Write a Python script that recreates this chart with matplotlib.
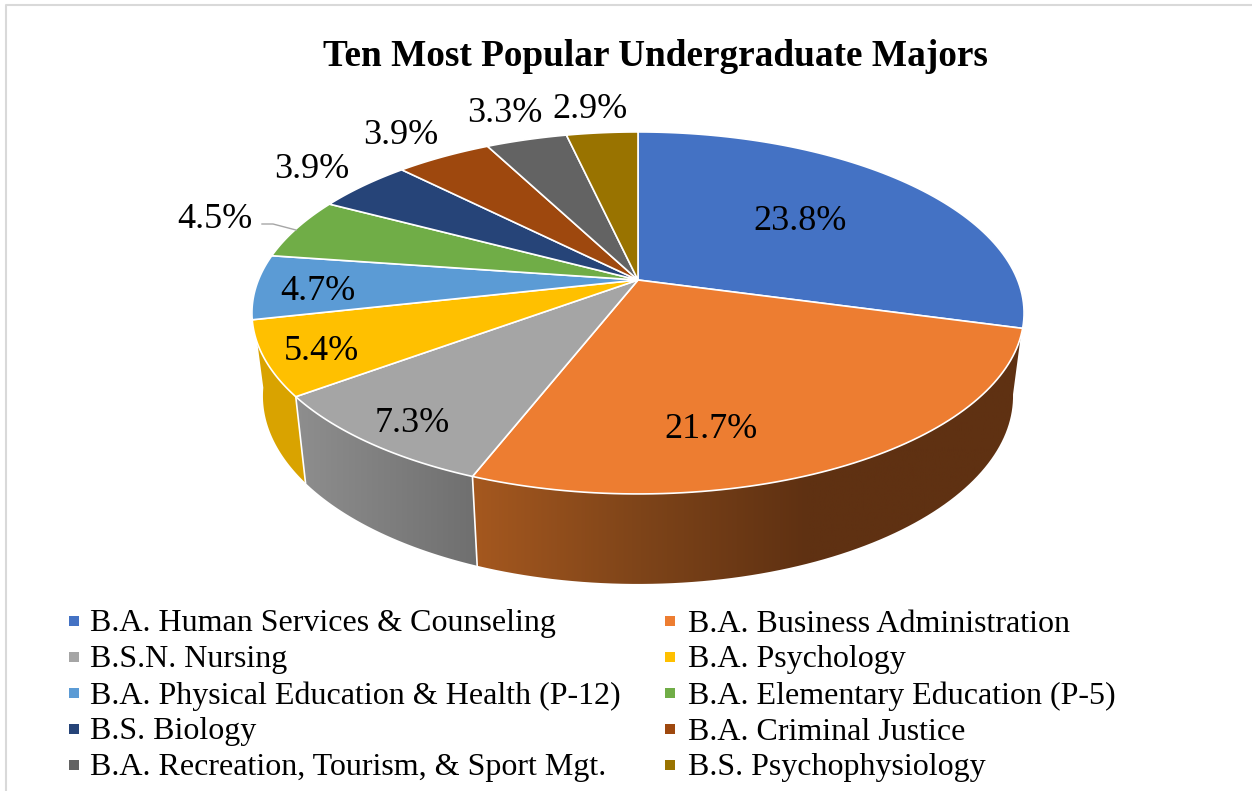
#Ten most popular majors drawn as a tilted 3D pie
import numpy as np
import matplotlib
matplotlib.use("Agg")
import matplotlib.pyplot as plt
from matplotlib.colors import LinearSegmentedColormap
from matplotlib.patches import Polygon

plt.rcParams['font.family'] = ['Liberation Serif', 'DejaVu Serif']

majors = ["B.A. Human Services & Counseling", "B.A. Business Administration",
          "B.S.N. Nursing", "B.A. Psychology",
          "B.A. Physical Education & Health (P-12)", "B.A. Elementary Education (P-5)",
          "B.S. Biology", "B.A. Criminal Justice",
          "B.A. Recreation, Tourism, & Sport Mgt.", "B.S. Psychophysiology"]
shares = [23.8, 21.7, 7.3, 5.4, 4.7, 4.5, 3.9, 3.9, 3.3, 2.9]
colors = ["#4472c4", "#ed7d31", "#a5a5a5", "#ffc000", "#5b9bd5",
          "#70ad47", "#264478", "#9e480e", "#636363", "#997300"]

#where the percent labels sit, in pixels
label_x = [800, 711, 412, 321, 318, 215, 312, 401, 505, 590]
label_y = [221, 430, 423, 352, 292, 219, 169, 136, 114, 110]

#pie geometry in pixels, the apex is not the middle of the ellipse (perspective)
cx, apex_y = 638, 280
top_cy, top_rx, top_ry = 313, 386, 181
bot_cy, bot_rx, bot_ry = 396, 375, 188
persp = 0.182
persp_a = 175
persp_d = 379.6

def top_point(theta):
    #theta is degrees clockwise from the top of the pie
    t = np.radians(theta)
    u, v = np.sin(t), np.cos(t)
    d = 1 + persp * v
    return cx + persp_d * u / d, apex_y - persp_a * v / d

def bottom_point(theta):
    #same spot on the rim, moved down to the lower ellipse
    x, y = top_point(theta)
    s = (x - cx) / top_rx
    c = (y - top_cy) / top_ry
    return cx + bot_rx * s, bot_cy + bot_ry * c

def wall_poly(a, b):
    th = np.linspace(a, b, 80)
    tx, ty = top_point(th)
    bx, by = bottom_point(th)
    return np.column_stack([np.r_[tx, bx[::-1]], np.r_[ty, by[::-1]]])

fig = plt.figure(figsize=(12.52, 7.91), dpi=100)
ax = fig.add_axes([0, 0, 1, 1])

edges = np.r_[0, np.cumsum(shares)] / sum(shares) * 360

#visible part of the side wall runs from the right rim to the left rim
wall_start, wall_end = 100, 262

#orange wall has a left to right gradient
orange_grad = LinearSegmentedColormap.from_list(
    "orange_wall", [(0, "#a5581f"), (0.3, "#7e4419"), (0.6, "#5f3112"), (1, "#5f3112")])
grey_grad = LinearSegmentedColormap.from_list("grey_wall", ["#8e8e8e", "#6f6f6f"])

p = Polygon(wall_poly(wall_start, edges[2]), closed=True, fc="none", ec="none")
ax.add_patch(p)
im = ax.imshow(np.linspace(0, 1, 256).reshape(1, -1), cmap=orange_grad, aspect="auto",
               extent=[473, 1030, 600, 300], zorder=1)
im.set_clip_path(p)

p = Polygon(wall_poly(edges[2], edges[3]), closed=True, fc="none", ec="none")
ax.add_patch(p)
xs = p.get_xy()[:, 0]
im = ax.imshow(np.linspace(0, 1, 256).reshape(1, -1), cmap=grey_grad, aspect="auto",
               extent=[xs.min(), xs.max(), 600, 380], zorder=1)
im.set_clip_path(p)

ax.add_patch(Polygon(wall_poly(edges[3], wall_end), closed=True, fc="#d9a300", ec="none", zorder=1))

#white separators on the wall
for e in [edges[2], edges[3]]:
    tx, ty = top_point(e)
    bx, by = bottom_point(e)
    ax.plot([tx, bx], [ty, by], color="white", lw=1.2, zorder=2)

#top of the pie
for i in range(len(shares)):
    th = np.linspace(edges[i], edges[i + 1], 80)
    x, y = top_point(th)
    pts = np.column_stack([np.r_[cx, x], np.r_[apex_y, y]])
    ax.add_patch(Polygon(pts, closed=True, fc=colors[i], ec="white", lw=1.2,
                         joinstyle="round", zorder=3))

#percent labels
for i in range(len(shares)):
    ax.text(label_x[i], label_y[i], "%.1f%%" % shares[i], fontsize=26, color="black",
            ha="center", va="center", zorder=5)

#leader line for the 4.5% label
ax.plot([262, 273, 296], [224, 224, 230], color="#a6a6a6", lw=1.0, zorder=4)

ax.text(655, 56, "Ten Most Popular Undergraduate Majors", fontsize=26.8, fontweight="bold",
        ha="center", va="center")

#legend, two columns filled row by row
legend_text_x = [90, 688]
for i in range(len(majors)):
    col = i % 2
    row = i // 2
    x0 = 74 + col * 596
    y0 = 621 + row * 36
    ax.scatter([x0], [y0], marker="s", s=52, color=colors[i], linewidths=0, zorder=5)
    ax.text(legend_text_x[col], y0 + 3, majors[i], fontsize=23, ha="left", va="center", color="black")

#thin frame around the chart area, cut off at right and bottom
ax.plot([6, 6, 1252], [791, 5, 5], color="#d9d9d9", lw=1.5, zorder=6)

ax.set_xlim(0, 1252)
ax.set_ylim(791, 0)
ax.axis("off")

fig.savefig("out.png", dpi=100)
